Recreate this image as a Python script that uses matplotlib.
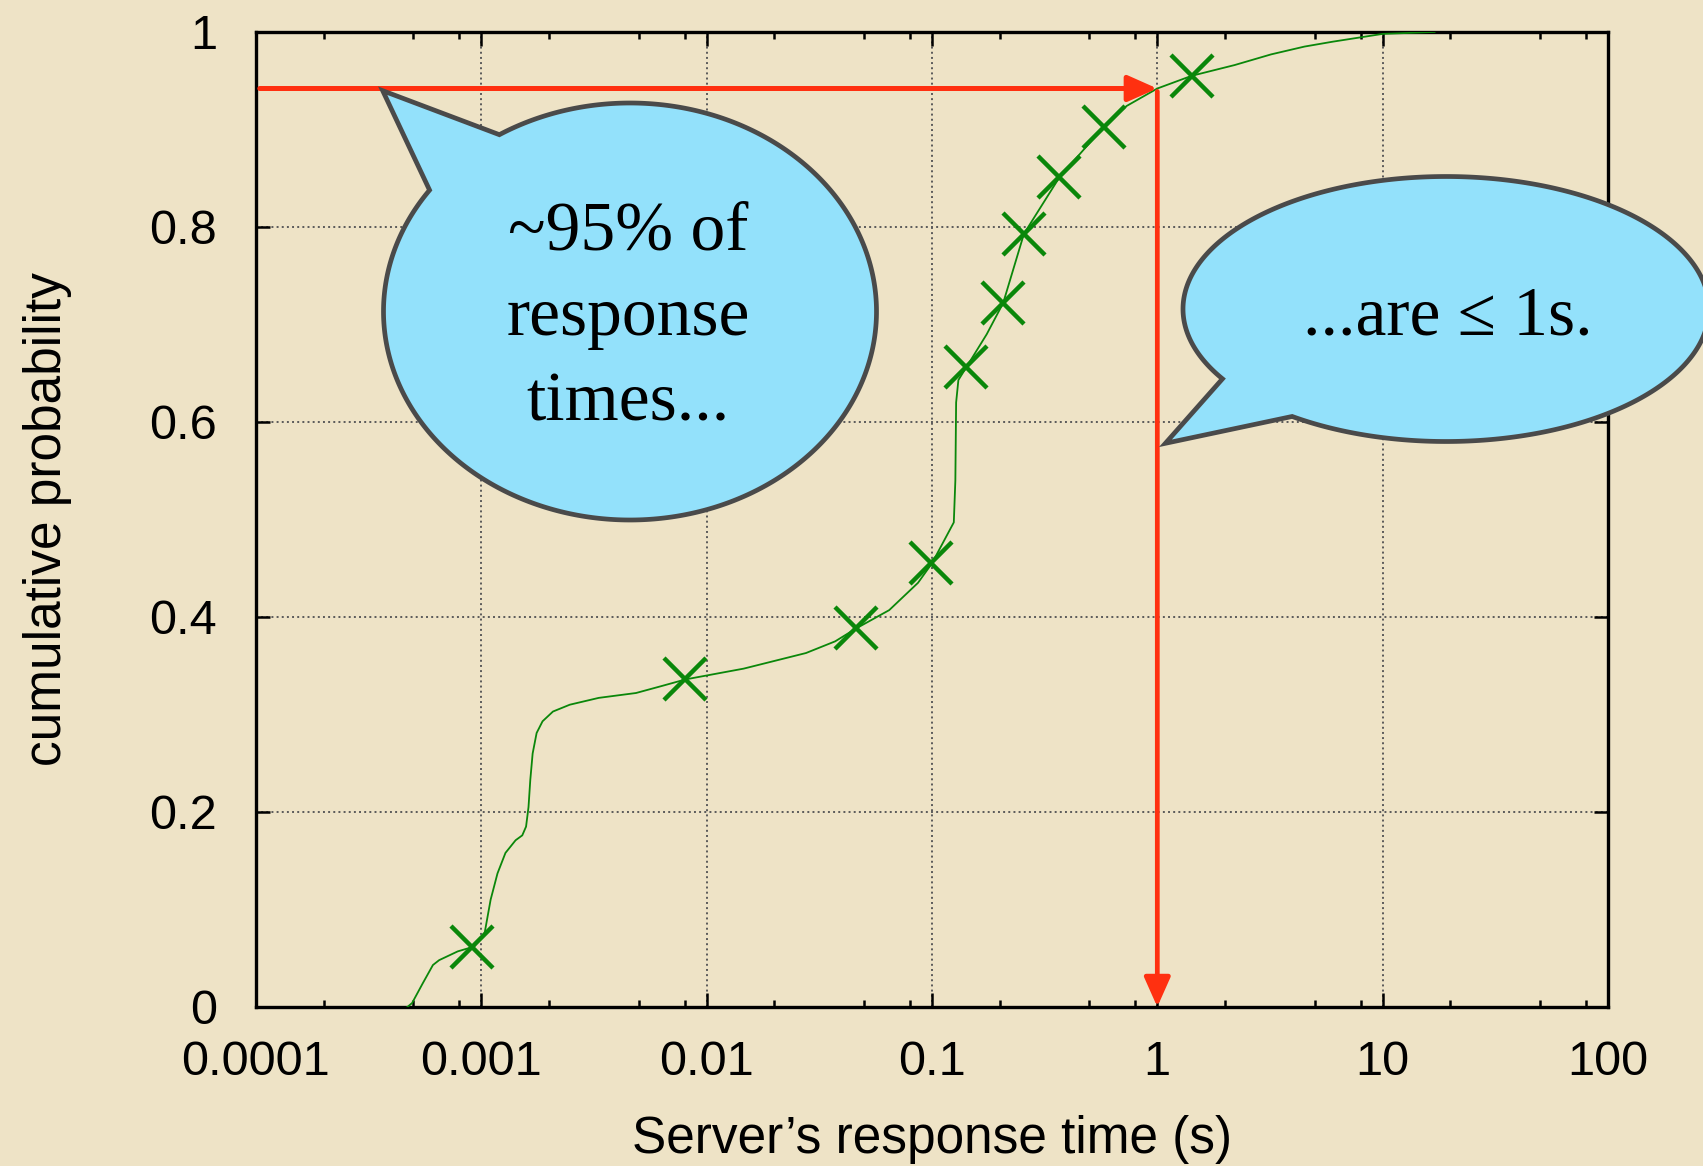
import matplotlib
matplotlib.use("Agg")
import matplotlib.pyplot as plt
import numpy as np
import matplotlib.ticker as mticker
from matplotlib.patches import Polygon

# - Data

resp_time = [4.7e-4, 4.93e-4, 5.49e-4, 6.1e-4, 6.5e-4, 7.86e-4, 9.3e-4, 1.035e-3,
             1.1e-3, 1.18e-3, 1.28e-3, 1.42e-3, 1.52e-3, 1.58e-3, 1.62e-3, 1.65e-3,
             1.69e-3, 1.76e-3, 1.87e-3, 2.08e-3, 2.47e-3, 3.32e-3, 4.86e-3, 6.28e-3,
             8.08e-3, 0.0146, 0.0276, 0.0372, 0.0459, 0.0646, 0.0867, 0.1, 0.1136,
             0.125, 0.127, 0.128, 0.131, 0.142, 0.175, 0.207, 0.256, 0.368, 0.58,
             0.73, 1.0, 1.42, 2.2, 3.2, 4.5, 6.0, 10.0, 17.0]
cum_prob = [0.0, 0.004, 0.024, 0.043, 0.048, 0.057, 0.062, 0.076,
            0.11, 0.137, 0.158, 0.171, 0.176, 0.185, 0.205, 0.233,
            0.26, 0.281, 0.293, 0.303, 0.31, 0.317, 0.322, 0.329,
            0.336, 0.347, 0.363, 0.375, 0.388, 0.407, 0.435, 0.455, 0.479,
            0.497, 0.54, 0.62, 0.643, 0.656, 0.69, 0.722, 0.793, 0.851, 0.903,
            0.924, 0.942, 0.955, 0.966, 0.977, 0.985, 0.99, 0.998, 1.0]

marker_time = [9.1e-4, 8.0e-3, 0.046, 0.0995, 0.142, 0.207, 0.256, 0.368, 0.58, 1.42]
marker_prob = [0.062, 0.336, 0.389, 0.455, 0.656, 0.722, 0.793, 0.851, 0.903, 0.955]

x_ticks = [1e-4, 1e-3, 1e-2, 1e-1, 1, 10, 100]
x_tick_labels = ['0.0001', '0.001', '0.01', '0.1', '1', '10', '100']
y_ticks = [0, 0.2, 0.4, 0.6, 0.8, 1]
y_tick_labels = ['0', '0.2', '0.4', '0.6', '0.8', '1']

level_prob = 0.942   # ~95% line
level_time = 1.0     # 1 s line

bubble_left_text = '~95% of\nresponse\ntimes...'
bubble_right_text = '...are \u2264 1s.'

# - Plot

bg = '#EEE3C6'
red = '#FF3010'
green = '#0A870A'
plt.rcParams['font.family'] = ['Liberation Sans', 'DejaVu Sans']

fig = plt.figure(figsize=(17.03, 11.66), dpi=100, facecolor=bg)
ax = fig.add_axes([0.1503, 0.1364, 0.7939, 0.8362])
ax.set_facecolor('none')

ax.semilogx(resp_time, cum_prob, color=green, lw=1.3, zorder=3)
ax.plot(marker_time, marker_prob, ls='none', marker='x', ms=30, mew=3.2,
        color=green, zorder=4)

# red arrows
ax.annotate('', xy=(level_time, level_prob), xytext=(1.04e-4, level_prob),
            arrowprops=dict(arrowstyle='-|>,head_length=18,head_width=8',
                            mutation_scale=1, color=red, lw=3.6,
                            shrinkA=0, shrinkB=0), zorder=5)
ax.annotate('', xy=(level_time, 0), xytext=(level_time, level_prob - 0.003),
            arrowprops=dict(arrowstyle='-|>,head_length=18,head_width=8',
                            mutation_scale=1, color=red, lw=3.4,
                            shrinkA=0, shrinkB=0), zorder=5)

ax.set_xlim(1e-4, 100)
ax.set_ylim(0, 1)
ax.set_xticks(x_ticks)
ax.set_xticklabels(x_tick_labels)
ax.set_yticks(y_ticks)
ax.set_yticklabels(y_tick_labels)
ax.xaxis.set_minor_locator(mticker.LogLocator(base=10, subs=[2, 5, 8]))
ax.xaxis.set_minor_formatter(mticker.NullFormatter())
ax.tick_params(which='both', direction='in', top=True, right=True, width=1.8,
               colors='black')
ax.tick_params(which='major', length=10, labelsize=35)
ax.tick_params(which='minor', length=5)
ax.tick_params(axis='x', pad=24)
ax.tick_params(axis='y', pad=28)
ax.grid(True, which='major', ls=':', color='#5a5a5a', lw=1.4)
for s in ax.spines.values():
    s.set_linewidth(2.4)

ax.set_xlabel("Server\u2019s response time (s)", fontsize=37)
ax.set_ylabel('cumulative probability', fontsize=37)
ax.xaxis.set_label_coords(0.5, -0.111)
ax.yaxis.set_label_coords(-0.136, 0.5)

# - Speech bubbles on a pixel overlay

ov = fig.add_axes([0, 0, 1, 1])
ov.set_xlim(0, 1703)
ov.set_ylim(1166, 0)
ov.axis('off')


def bubble(cx, cy, rx, ry, t_start, t_end, tip):
    t = np.radians(np.linspace(t_start, t_end, 400))
    pts = np.column_stack([cx + rx * np.cos(t), cy + ry * np.sin(t)])
    pts = np.vstack([pts, tip])
    ov.add_patch(Polygon(pts, closed=True, facecolor='#93E1FB',
                         edgecolor='#4A4A4A', lw=3.4, joinstyle='miter'))


bubble(630, 311.5, 246.5, 208.5, -122, 215.6, (382.7, 90.7))
bubble(1446, 309, 263, 132.5, 148.2, 485.8, (1165.4, 443.3))

ov.text(628, 318, bubble_left_text, ha='center', va='center', fontsize=50,
        family=['Liberation Serif', 'DejaVu Serif'], linespacing=1.45)
ov.text(1448, 318, bubble_right_text, ha='center', va='center', fontsize=50,
        family=['Liberation Serif', 'DejaVu Serif'])

fig.savefig('out.png', dpi=100, facecolor=bg)
